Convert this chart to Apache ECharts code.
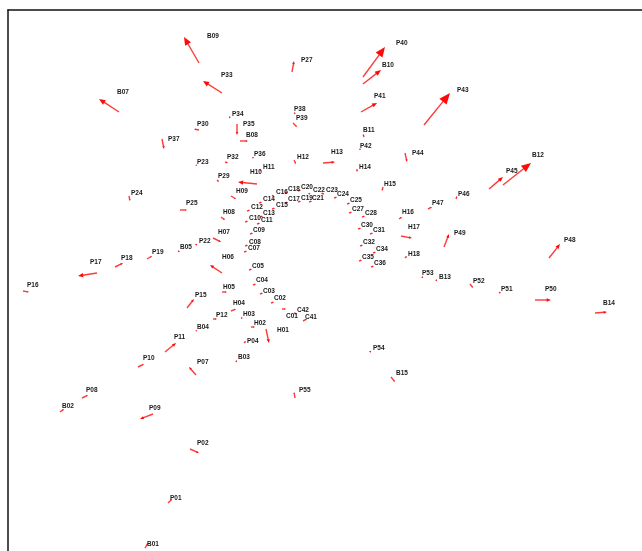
<!DOCTYPE html>
<html>
<head>
<meta charset="utf-8">
<script src="https://cdn.jsdelivr.net/npm/echarts@6/dist/echarts.min.js"></script>
<style>
html, body { margin: 0; padding: 0; background: #fff; }
#chart { width: 642px; height: 551px; }
</style>
</head>
<body>
<div id="chart"></div>
<script>
// Landmark names, where each name is written, and the displacement vector of each landmark.
const names = [
  'B09','B07','P33','P27','P40','B10','P41','P43','P30','P34','P38','P39','P35','B08','B11','P37',
  'P23','P32','P36','H12','H13','P42','P44','H14','H11','H10','P29','H09','H15','P24','P25','H08',
  'H07','P22','B05','P19','P18','P17','H06','P16','P15','B04','P11','P10','P07','P08','B02','P09',
  'P02','P01','B01','H05','H04','H03','P12','H02','H01','P04','B03','P54','B15','P55',
  'C16','C18','C20','C22','C23','C24','C19','C21','C17','C14','C15','C12','C13','C10','C11','C09',
  'C08','C07','C05','C04','C03','C02','C01','C42','C41','C25','C27','C28','C30','C31','C32','C34',
  'C35','C36',
  'H16','H17','H18','B12','P45','P46','P47','P49','P48','P53','B13','P52','P51','P50','B14'
];
const labelX = [
  207,117,221,301,396,382,374,457,197,232,294,296,243,246,363,168,
  197,227,254,297,331,360,412,359,263,250,218,236,384,131,186,223,
  218,199,180,152,121,90,222,27,195,197,174,143,197,86,62,149,
  197,170,147,223,233,243,216,254,277,247,238,373,396,299,
  276,288,301,313,326,337,301,312,288,263,276,251,263,249,261,253,
  249,248,252,256,263,274,286,297,305,350,352,365,361,373,363,376,
  362,374,
  402,408,408,532,506,458,432,454,564,422,439,473,501,545,603
];
const labelY = [
  36,92,75,60,43,65,96,90,124,114,109,118,124,135,130,139,
  162,157,154,157,152,146,153,167,167,172,176,191,184,193,203,212,
  232,241,247,252,258,262,257,285,295,327,337,358,362,390,406,408,
  443,498,544,287,303,314,315,323,330,341,357,348,373,390,
  192,189,187,190,190,194,198,198,199,199,205,207,213,218,220,230,
  242,248,266,280,291,298,316,310,317,200,209,213,225,230,242,249,
  257,263,
  212,227,254,155,171,194,203,233,240,273,277,281,289,289,303
];
const startX = [
  199,119,222,292,363,363,361,424,199,230,295,293,237,240,364,162,
  196,225,253,294,323,360,405,357,260,257,217,231,383,129,180,221,
  213,197,178,147,115,97,222,23,187,196,165,138,196,82,60,153,
  190,168,145,222,231,241,213,251,266,244,236,371,391,295,
  272,285,298,310,324,334,298,309,285,259,272,247,260,245,257,250,
  245,244,249,253,260,271,282,294,303,347,349,362,358,370,360,373,
  359,371,
  399,401,405,503,489,456,428,444,549,422,436,470,499,535,595
];
const startY = [
  63,112,93,72,77,84,112,125,130,118,114,123,124,141,137,139,
  165,162,157,160,163,150,153,169,170,184,180,196,187,196,210,217,
  238,245,251,259,267,273,273,291,308,331,352,367,375,398,412,414,
  449,503,548,292,311,318,319,327,329,343,362,352,377,398,
  196,193,191,194,194,198,202,202,203,203,209,211,217,222,224,234,
  246,252,270,285,294,303,309,313,321,204,213,217,229,234,246,253,
  261,267,
  219,236,258,185,189,199,209,247,258,278,281,284,293,300,313
];
const endX = [
  184,99,203,294,385,381,377,450,194,229,294,297,237,248,363,164,
  197,228,253,296,335,360,407,357,261,238,219,236,382,130,187,225,
  221,195,180,152,123,78,210,29,194,197,176,144,189,88,64,140,
  199,172,148,227,236,243,217,255,269,246,237,369,395,294,
  274,288,301,308,321,337,301,312,288,262,275,250,263,248,260,253,
  248,247,252,256,263,274,286,297,307,350,352,365,361,373,363,376,
  362,374,
  402,412,407,531,503,457,432,449,560,423,437,473,501,551,607
];
const endY = [
  37,99,81,61,47,70,103,93,129,116,112,127,135,141,134,149,
  166,163,159,164,162,148,162,172,171,182,182,199,191,201,210,220,
  242,244,252,256,263,276,265,292,299,330,343,364,367,395,409,419,
  453,499,543,292,309,318,319,327,343,341,360,351,382,392,
  195,192,190,193,193,197,201,201,202,202,208,210,216,221,223,233,
  245,251,269,284,293,302,309,314,319,203,212,216,228,233,245,252,
  260,266,
  217,238,256,163,177,196,207,234,244,276,279,288,292,300,312
];

const arrowData = names.map((n, i) => [startX[i], startY[i], endX[i], endY[i]]);
const labelData = names.map((n, i) => [labelX[i], labelY[i]]);

// Shaft plus a filled head whose size follows the vector length.
function renderArrow(params, api) {
  const p0 = api.coord([api.value(0), api.value(1)]);
  const p1 = api.coord([api.value(2), api.value(3)]);
  const dx = p1[0] - p0[0];
  const dy = p1[1] - p0[1];
  const len = Math.hypot(dx, dy) || 1;
  const ux = dx / len, uy = dy / len;
  const head = Math.min(len, Math.max(1.6, len * 0.27));
  const half = head * 0.42;
  const bx = p1[0] - ux * head;
  const by = p1[1] - uy * head;
  return {
    type: 'group',
    children: [
      {
        type: 'line',
        shape: { x1: p0[0], y1: p0[1], x2: bx + ux * 0.6, y2: by + uy * 0.6 },
        style: { stroke: '#ff3a3a', lineWidth: 1.4 }
      },
      {
        type: 'polygon',
        shape: { points: [p1, [bx - uy * half, by + ux * half], [bx + uy * half, by - ux * half]] },
        style: { fill: '#ff0a0a' }
      }
    ]
  };
}

function renderLabel(params, api) {
  const p = api.coord([api.value(0), api.value(1)]);
  return {
    type: 'text',
    style: {
      text: names[params.dataIndex],
      x: p[0],
      y: p[1],
      fill: '#1a1a1a',
      fontSize: 6.5,
      fontWeight: 'bold',
      fontFamily: '"Liberation Sans", Arial, sans-serif',
      align: 'left',
      verticalAlign: 'middle'
    }
  };
}

const chart = echarts.init(document.getElementById('chart'), null, { renderer: 'canvas' });
const frameLine = { show: true, onZero: false, lineStyle: { color: '#111', width: 1.5 } };
chart.setOption({
  animation: false,
  backgroundColor: '#fff',
  grid: { left: 8, top: 10, right: 0, bottom: 0 },
  xAxis: {
    type: 'value', min: 8, max: 642, position: 'top',
    axisLine: frameLine, axisTick: { show: false }, axisLabel: { show: false }, splitLine: { show: false }
  },
  yAxis: {
    type: 'value', min: 10, max: 551, inverse: true, position: 'left',
    axisLine: frameLine, axisTick: { show: false }, axisLabel: { show: false }, splitLine: { show: false }
  },
  series: [
    { type: 'custom', renderItem: renderArrow, data: arrowData, clip: false, silent: true },
    { type: 'custom', renderItem: renderLabel, data: labelData, clip: false, silent: true }
  ]
});
</script>
</body>
</html>
